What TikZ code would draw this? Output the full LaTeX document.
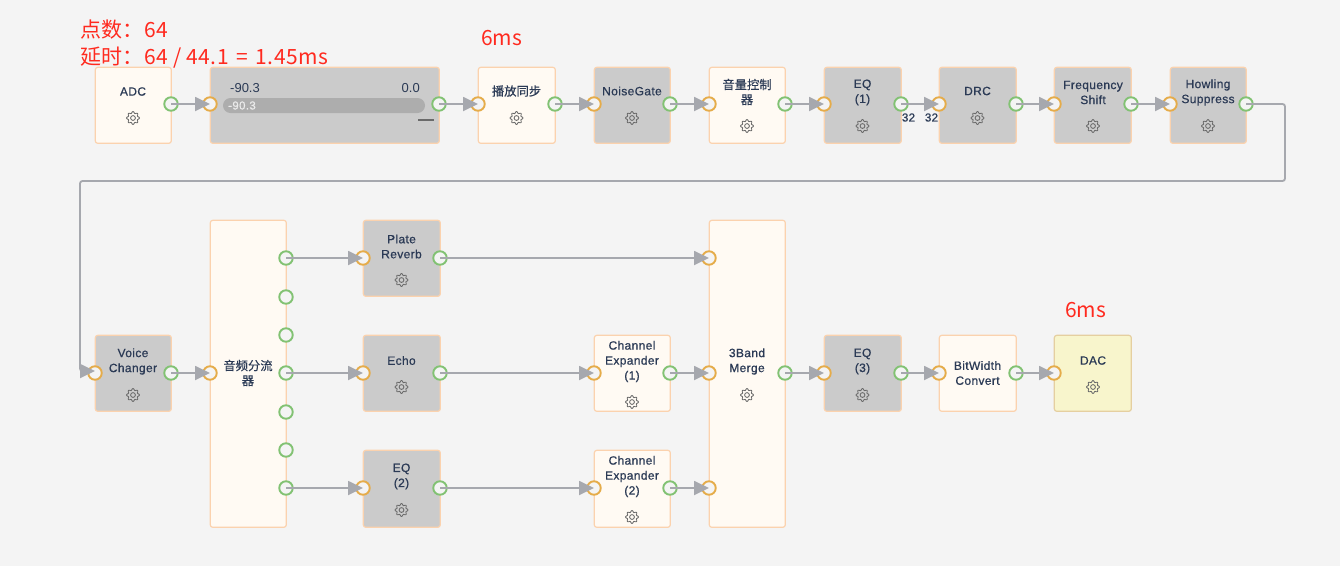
\documentclass[tikz,border=0pt]{standalone}
\usepackage{fontspec}
\setmainfont[LetterSpace=3,FakeBold=0.7]{Liberation Sans}
\newfontfamily\plainsans[LetterSpace=0]{Liberation Sans}
\newfontfamily\cjk[FakeBold=0.35]{Noto Sans CJK SC}
\newfontfamily\cjkred{Noto Sans CJK SC}
\newfontfamily\cjkwide[LetterSpace=2.2]{Noto Sans CJK SC}
\usetikzlibrary{arrows.meta,calc}
\definecolor{bgc}{HTML}{F4F4F4}
\definecolor{lightfill}{HTML}{FFFAF3}
\definecolor{grayfill}{HTML}{CBCBCB}
\definecolor{edgec}{HTML}{FBD2AE}
\definecolor{dacfill}{HTML}{F8F5CC}
\definecolor{dacedge}{HTML}{E5CFA0}
\definecolor{txtc}{HTML}{2B3A55}
\definecolor{linec}{HTML}{A6A8AE}
\definecolor{okgreen}{HTML}{82C273}
\definecolor{inorange}{HTML}{E5AC4A}
\definecolor{redtxt}{HTML}{FF2A1F}
\definecolor{gearc}{HTML}{6A6A6A}
\tikzset{
  lightbox/.style={draw=edgec,fill=lightfill,line width=1.2pt,rounded corners=2.5pt,inner sep=0pt},
  graybox/.style={draw=edgec,fill=grayfill,line width=1.2pt,rounded corners=2.5pt,inner sep=0pt},
  dacbox/.style={draw=dacedge,fill=dacfill,line width=1.2pt,rounded corners=2.5pt,inner sep=0pt},
  lbl/.style={text=txtc,font=\fontsize{12}{15}\selectfont,align=center,inner sep=0pt},
  cjklbl/.style={text=txtc,font=\cjk\fontsize{12.3}{15}\selectfont,align=center,inner sep=0pt},
  redlbl/.style={text=redtxt,font=\cjkred\fontsize{21}{25}\selectfont,anchor=west,inner sep=0pt},
  outport/.style={circle,draw=okgreen,fill=bgc,line width=1.9pt,minimum size=13.5pt,inner sep=0pt},
  inport/.style={circle,draw=inorange,fill=bgc,line width=1.9pt,minimum size=13.5pt,inner sep=0pt},
  conn/.style={draw=linec,line width=1.8pt,-{Triangle[length=15pt,width=14pt,fill=linec]}},
}
\newcommand{\blk}[6]{\node[#6,minimum width={#4-#2},minimum height={#5-#3},anchor=north west] (#1) at ({#2-.3},{#3-.3}) {};}
\newcommand{\gear}[2]{%
  \begin{scope}[shift={(#1,#2)},y=1pt]
    \draw[gearc,line width=.85pt,smooth,samples=73,domain=0:360,variable=\t]
      plot ({(5.6+0.85*cos(8*\t))*cos(\t)},{(5.6+0.85*cos(8*\t))*sin(\t)}) -- cycle;
    \draw[gearc,line width=.85pt] (0,0) circle (2.4pt);
  \end{scope}}
\begin{document}
\begin{tikzpicture}[x=1pt,y=-1pt]
\useasboundingbox (0,0) rectangle (1340,566);
\fill[bgc] (0,0) rectangle (1340,566);
% blocks
\blk{adc}{95}{67}{171}{143}{lightbox}
\blk{meter}{210}{67}{439}{143}{graybox}
\blk{sync}{478}{67}{555}{143}{lightbox}
\blk{gate}{594}{67}{670}{143}{graybox}
\blk{vol}{709}{67}{785}{143}{lightbox}
\blk{eqa}{824}{67}{901}{143}{graybox}
\blk{drc}{939}{67}{1016}{143}{graybox}
\blk{freq}{1054}{67}{1131}{143}{graybox}
\blk{howl}{1170}{67}{1246}{143}{graybox}
\blk{voice}{95}{335}{171}{411}{graybox}
\blk{split}{210}{220}{286}{527}{lightbox}
\blk{plate}{363}{220}{440}{296}{graybox}
\blk{echo}{363}{335}{440}{411}{graybox}
\blk{eqb}{363}{450}{440}{527}{graybox}
\blk{cha}{594}{335}{670}{411}{lightbox}
\blk{chb}{594}{450}{670}{527}{lightbox}
\blk{merge}{709}{220}{785}{527}{lightbox}
\blk{eqc}{824}{335}{901}{411}{graybox}
\blk{bit}{939}{335}{1016}{411}{lightbox}
\blk{dac}{1054}{335}{1131}{411}{dacbox}
% labels
\node[lbl] (t1) at (133,91.5) {ADC};
\node[cjklbl] (t2) at (516.5,91) {播放同步};
\node[lbl] (t3) at (632,91) {NoiseGate};
\node[cjklbl] (t4) at (747,92) {音量控制\\器};
\node[lbl] (t5) at (862.5,92.5) {EQ\\(1)};
\node[lbl] (t6) at (977.5,91) {DRC};
\node[lbl] (t7) at (1093,92.5) {Frequency\\Shift};
\node[lbl] (t8) at (1208,92.5) {Howling\\Suppress};
\node[lbl] (t9) at (133,361.5) {Voice\\Changer};
\node[cjklbl] (t10) at (248,373) {音频分流\\器};
\node[lbl] (t11) at (401.5,246.5) {Plate\\Reverb};
\node[lbl] (t12) at (401.5,360.5) {Echo};
\node[lbl] (t13) at (401.5,476.5) {EQ\\(2)};
\node[lbl] (t14) at (632,361.5) {Channel\\Expander\\(1)};
\node[lbl] (t15) at (632,476.5) {Channel\\Expander\\(2)};
\node[lbl] (t16) at (747,361.5) {3Band\\Merge};
\node[lbl] (t17) at (862.5,361.5) {EQ\\(3)};
\node[lbl] (t18) at (977.5,373) {BitWidth\\Convert};
\node[lbl] (t19) at (1093,360.5) {DAC};
% gears
\gear{133}{118}\gear{516.5}{118}\gear{632}{118}\gear{747}{126}\gear{862.5}{126}
\gear{977.5}{118}\gear{1093}{126}\gear{1208}{126}
\gear{133}{395}\gear{401.5}{280}\gear{401.5}{387}\gear{401.5}{510}
\gear{632}{402}\gear{632}{517}\gear{747}{395}\gear{862.5}{395}\gear{1093}{387}
% meter
\fill[fill=black!32] (223,98) [rounded corners=7.5pt] rectangle (425,113);
\node[lbl,text=white!92!black,anchor=west,font=\fontsize{11.5}{14}\selectfont] (mv) at (228,105.5) {-90.3};
\node[lbl,anchor=west,font=\plainsans\fontsize{13}{14}\selectfont] (mlo) at (230,88) {-90.3};
\node[lbl,anchor=east,font=\plainsans\fontsize{13}{14}\selectfont] (mhi) at (420,88) {0.0};
\fill[gearc] (418,119.3) rectangle (434,120.7);
% ports
\foreach \n/\x/\y in {adc-o/171/104,meter-o/439/104,sync-o/555/104,gate-o/670/104,vol-o/785/104,eqa-o/901/104,drc-o/1016/104,freq-o/1131/104,howl-o/1246/104,voice-o/171/373,
  splita/286/258,splitb/286/297,splitc/286/335,splitd/286/373,splite/286/412,splitf/286/450,splitg/286/488,
  plate-o/440/258,echo-o/440/373,eqb-o/440/488,cha-o/670/373,chb-o/670/488,merge-o/785/373,eqc-o/901/373,bit-o/1016/373}
  \node[outport] (\n) at (\x,\y) {};
\foreach \n/\x/\y in {meter-i/210/104,sync-i/478/104,gate-i/594/104,vol-i/709/104,eqa-i/824/104,drc-i/939/104,freq-i/1054/104,howl-i/1170/104,voice-i/95/373,split-i/210/373,
  plate-i/363/258,echo-i/363/373,eqb-i/363/488,cha-i/594/373,chb-i/594/488,mergea/709/258,mergeb/709/373,mergec/709/488,eqc-i/824/373,bit-i/939/373,dac-i/1054/373}
  \node[inport] (\n) at (\x,\y) {};
% connectors
\foreach \a/\b in {adc-o/meter-i,meter-o/sync-i,sync-o/gate-i,gate-o/vol-i,vol-o/eqa-i,eqa-o/drc-i,drc-o/freq-i,freq-o/howl-i,voice-o/split-i,
  splita/plate-i,splitd/echo-i,splitg/eqb-i,plate-o/mergea,echo-o/cha-i,eqb-o/chb-i,cha-o/mergeb,chb-o/mergec,merge-o/eqc-i,eqc-o/bit-i,bit-o/dac-i}
  \draw[conn] (\a.center) -- (\b.center);
\coordinate (ca) at (1285,104);
\coordinate (cb) at (1285,181);
\coordinate (cc) at (80,181);
\coordinate (cd) at (80,371);
\draw[conn,rounded corners=2.5pt] (howl-o.center) -- (ca) -- (cb) -- (cc) -- (cd) -- (voice-i.center |- cd);
% small numbers
\node[lbl,font=\fontsize{11.5}{14}\selectfont] (na) at (908.5,117.5) {32};
\node[lbl,font=\fontsize{11.5}{14}\selectfont] (nb) at (931.5,117.5) {32};
% annotations
\node[redlbl] (ra) at (80,30) {点数：\hspace{1.5pt}64};
\node[redlbl] (rb) at (80,58) {延时：\hspace{1pt}{\cjkwide 64 / 44.1\hspace{2.5pt} = \hspace{2.5pt}1.45ms}};
\node[redlbl,anchor=center] (rc) at (501.5,38) {6ms};
\node[redlbl,anchor=center] (rd) at (1085.5,310) {6ms};
\end{tikzpicture}
\end{document}
